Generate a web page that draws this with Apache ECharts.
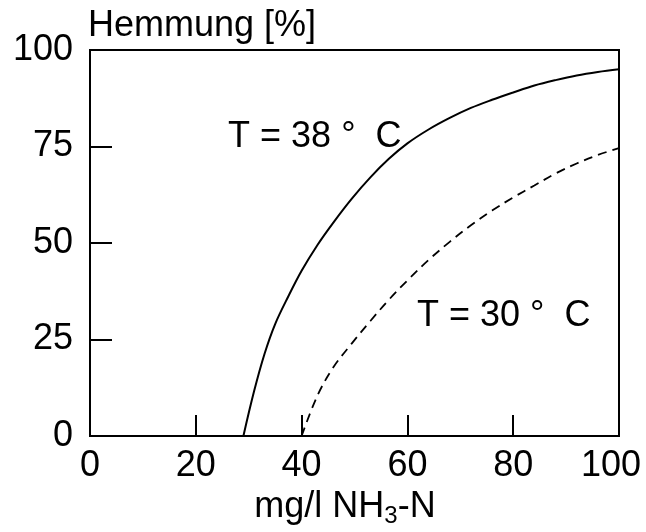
<!DOCTYPE html>
<html>
<head>
<meta charset="utf-8">
<script src="https://cdn.jsdelivr.net/npm/echarts@6/dist/echarts.min.js"></script>
<style>
html,body{margin:0;padding:0;background:#fff;}
#chart{width:646px;height:532px;}
</style>
</head>
<body>
<div id="chart"></div>
<script>
// Data
const xTicks = [0, 20, 40, 60, 80, 100];
const yTicks = [0, 25, 50, 75, 100];
const t38X = [29, 31, 33, 35, 37.5, 40, 43, 46, 49.5, 53, 56.5, 60, 64, 68, 72, 76, 80, 84, 88, 92, 96, 100];
const t38Y = [0, 11.5, 21.3, 29, 36.2, 42.8, 49.5, 55.3, 61.5, 67, 71.8, 75.8, 79.4, 82.4, 85, 87.1, 89, 90.8, 92.2, 93.4, 94.3, 95];
const t30X = [40, 43, 46, 49.5, 53, 56.5, 60, 64, 68, 72, 76, 80, 84, 88, 92, 96, 100];
const t30Y = [0, 10.5, 17.8, 24, 29.8, 35.3, 40.3, 45.6, 50.3, 54.6, 58.4, 61.8, 64.9, 68, 70.6, 72.8, 74.6];
const labelTexts = ['T = 38 °  C', 'T = 30 °  C'];
const labelX = [26.1, 61.8];
const labelY = [77.5, 31.1];

const FONT = 'Liberation Sans, Arial, sans-serif';
const zip = (xs, ys) => xs.map((x, i) => [x, ys[i]]);
const xMax = xTicks[xTicks.length - 1];

const chart = echarts.init(document.getElementById('chart'), null, {renderer: 'canvas'});
chart.setOption({
  animation: false,
  backgroundColor: '#fff',
  grid: {left: 90, right: 27, top: 50, bottom: 96, outerBoundsMode: 'none', containLabel: false,
    show: true, borderColor: '#000', borderWidth: 2, backgroundColor: 'transparent'},
  xAxis: {
    type: 'value', min: xTicks[0], max: xMax, interval: xTicks[1] - xTicks[0],
    splitLine: {show: false},
    axisLine: {show: true, lineStyle: {color: '#000', width: 2}},
    axisTick: {show: true, inside: true, length: 21, lineStyle: {color: '#000', width: 2}},
    axisLabel: {color: '#000', fontSize: 36, fontFamily: FONT, margin: 12,
      formatter: v => v === xMax ? '{last|' + v + '}' : String(v),
      rich: {last: {color: '#000', fontSize: 36, fontFamily: FONT, padding: [0, 16, 0, 0]}}},
    name: 'mg/l NH{sub|3}-N',
    nameLocation: 'middle',
    nameGap: 48,
    nameTextStyle: {color: '#000', fontSize: 36, fontFamily: FONT, padding: [0, 19, 0, 0],
      rich: {sub: {fontSize: 24, fontFamily: FONT, color: '#000', padding: [18, 0, 0, 0]}}}
  },
  yAxis: {
    type: 'value', min: yTicks[0], max: yTicks[yTicks.length - 1], interval: yTicks[1] - yTicks[0],
    splitLine: {show: false},
    axisLine: {show: true, lineStyle: {color: '#000', width: 2}},
    axisTick: {show: true, inside: true, length: 22, lineStyle: {color: '#000', width: 2}},
    axisLabel: {color: '#000', fontSize: 36, fontFamily: FONT, margin: 17, padding: [10, 0, 0, 0]},
    name: 'Hemmung [%]',
    nameLocation: 'end',
    nameGap: 6,
    nameTextStyle: {color: '#000', fontSize: 36, fontFamily: FONT, align: 'left', verticalAlign: 'bottom', padding: [0, 0, 0, -2]}
  },
  series: [
    {
      name: 'T38', type: 'line', smooth: 0.35, showSymbol: false, symbol: 'none',
      data: zip(t38X, t38Y),
      lineStyle: {color: '#000', width: 2, type: 'solid'}
    },
    {
      name: 'T30', type: 'line', smooth: 0.35, showSymbol: false, symbol: 'none',
      data: zip(t30X, t30Y),
      lineStyle: {color: '#000', width: 1.8, type: [9, 6]}
    },
    {
      name: 'labels', type: 'scatter', symbolSize: 0, silent: true,
      itemStyle: {opacity: 1, color: '#000'},
      data: labelTexts.map((t, i) => ({value: [labelX[i], labelY[i]], name: t})),
      label: {show: true, position: [0, 0], align: 'left', verticalAlign: 'middle', opacity: 1,
        formatter: p => p.name, color: '#000', fontSize: 36, fontFamily: FONT}
    }
  ]
});
</script>
</body>
</html>
